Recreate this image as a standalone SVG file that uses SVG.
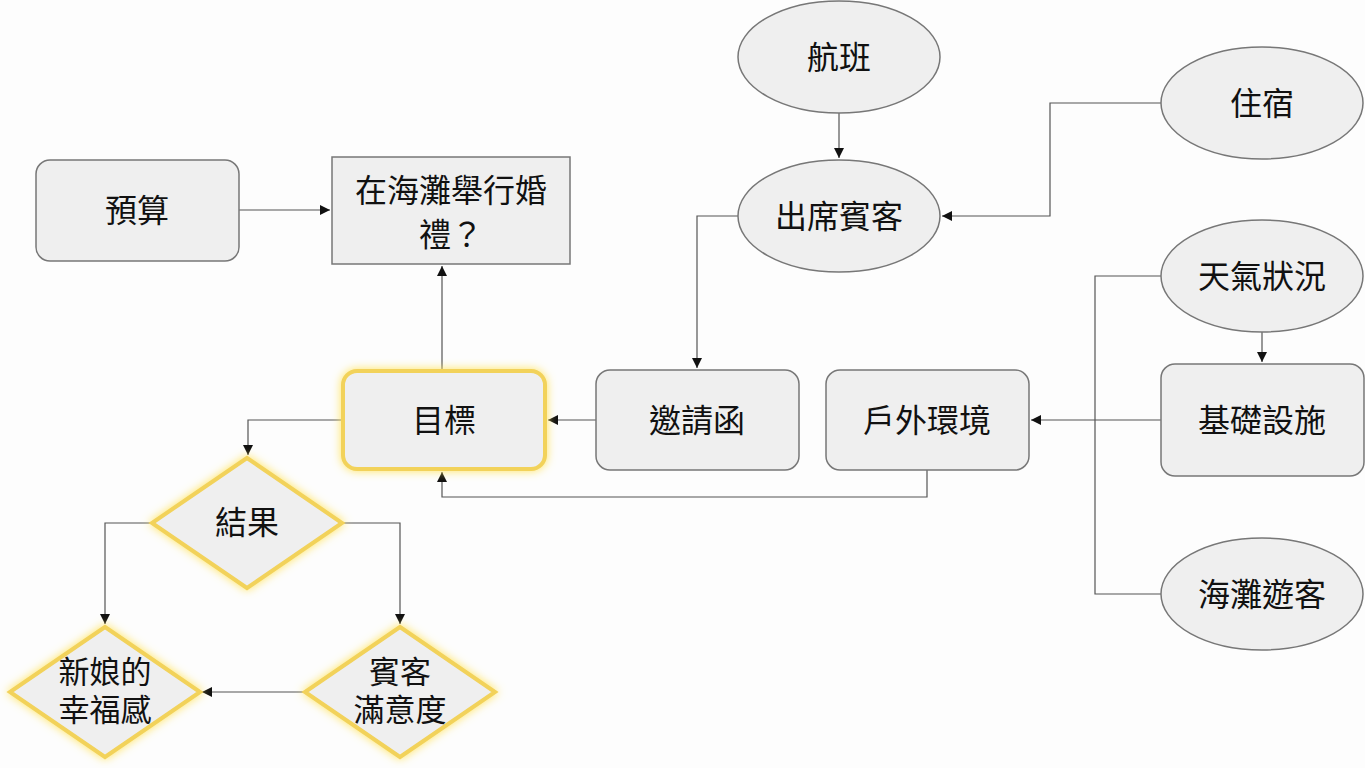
<svg xmlns="http://www.w3.org/2000/svg" width="1365" height="768" viewBox="0 0 1365 768">
<defs>
<marker id="arr" viewBox="0 0 10 10" refX="10" refY="5" markerWidth="10" markerHeight="10" markerUnits="userSpaceOnUse" orient="auto">
<path d="M0,0 L10,5 L0,10 z" fill="#111"/>
</marker>
<filter id="glow" x="-25%" y="-25%" width="150%" height="150%">
<feGaussianBlur in="SourceAlpha" stdDeviation="5" result="b"/>
<feFlood flood-color="#ffe45c" flood-opacity="1"/>
<feComposite in2="b" operator="in" result="g"/>
<feMerge><feMergeNode in="g"/><feMergeNode in="SourceGraphic"/></feMerge>
</filter>
</defs>
<style>
.n{fill:#efefef;stroke:#777;stroke-width:1.5}
.h{fill:#efefef;stroke:#f2d25a;stroke-width:4;filter:url(#glow)}
.t{font-family:"Noto Sans CJK TC","Noto Sans CJK SC",sans-serif;font-size:32px;fill:#111;text-anchor:middle;dominant-baseline:central}
.t2{font-family:"Liberation Sans","Noto Sans CJK TC","Noto Sans CJK SC",sans-serif;font-size:31px;fill:#111;text-anchor:middle}
.c{fill:none;stroke:#555;stroke-width:1.2}
</style>
<rect width="1365" height="768" fill="#fdfdfd"/>
<g id="connectors">
<path class="c" d="M239,210 H330" marker-end="url(#arr)"/>
<path class="c" d="M442,370 V266" marker-end="url(#arr)"/>
<path class="c" d="M839,113 V158" marker-end="url(#arr)"/>
<path class="c" d="M1161,103 H1050 V216 H942" marker-end="url(#arr)"/>
<path class="c" d="M738,216 H697 V368" marker-end="url(#arr)"/>
<path class="c" d="M596,420 H548" marker-end="url(#arr)"/>
<path class="c" d="M927,470 V497 H442 V472" marker-end="url(#arr)"/>
<path class="c" d="M1262,332 V362" marker-end="url(#arr)"/>
<path class="c" d="M1161,276 H1095 V420"/>
<path class="c" d="M1161,594 H1095 V420"/>
<path class="c" d="M1161,420 H1031" marker-end="url(#arr)"/>
<path class="c" d="M342,420 H248 V455" marker-end="url(#arr)"/>
<path class="c" d="M152,523 H105 V624" marker-end="url(#arr)"/>
<path class="c" d="M342,523 H400 V624" marker-end="url(#arr)"/>
<path class="c" d="M305,692 H202" marker-end="url(#arr)"/>
</g>
<g id="budget"><rect class="n" x="36" y="160" width="203" height="101" rx="14"/><text class="t" x="137" y="208">預算</text></g>
<g id="beach-wedding"><rect class="n" x="332" y="157" width="238" height="107"/><text class="t" x="451" y="188">在海灘舉行婚</text><text class="t" x="451" y="232">禮？</text></g>
<g id="goal"><rect class="h" x="343" y="371" width="202" height="98" rx="14"/><text class="t" x="444" y="418">目標</text></g>
<g id="invitation"><rect class="n" x="596" y="370" width="203" height="100" rx="14"/><text class="t" x="697" y="418">邀請函</text></g>
<g id="outdoor"><rect class="n" x="826" y="370" width="203" height="100" rx="14"/><text class="t" x="927" y="418">戶外環境</text></g>
<g id="flights"><ellipse class="n" cx="839" cy="57" rx="101" ry="56"/><text class="t" x="839" y="55">航班</text></g>
<g id="guests"><ellipse class="n" cx="839" cy="216" rx="101" ry="56"/><text class="t" x="839" y="214">出席賓客</text></g>
<g id="lodging"><ellipse class="n" cx="1262" cy="103" rx="101" ry="56"/><text class="t" x="1262" y="101">住宿</text></g>
<g id="weather"><ellipse class="n" cx="1262" cy="276" rx="101" ry="56"/><text class="t" x="1262" y="274">天氣狀況</text></g>
<g id="infrastructure"><rect class="n" x="1161" y="364" width="203" height="112" rx="14"/><text class="t" x="1262" y="418">基礎設施</text></g>
<g id="beachgoers"><ellipse class="n" cx="1262" cy="594" rx="101" ry="56"/><text class="t" x="1262" y="592">海灘遊客</text></g>
<g id="result"><polygon class="h" points="247,458 342,523 247,588 152,523"/><text class="t" x="247" y="520">結果</text></g>
<g id="bride"><polygon class="h" points="105,627 200,692 105,757 10,692"/><text class="t2" x="105" y="683">新娘的</text><text class="t2" x="105" y="721">幸福感</text></g>
<g id="satisfaction"><polygon class="h" points="400,627 495,692 400,757 305,692"/><text class="t2" x="400" y="683">賓客</text><text class="t2" x="400" y="721">滿意度</text></g>
</svg>
